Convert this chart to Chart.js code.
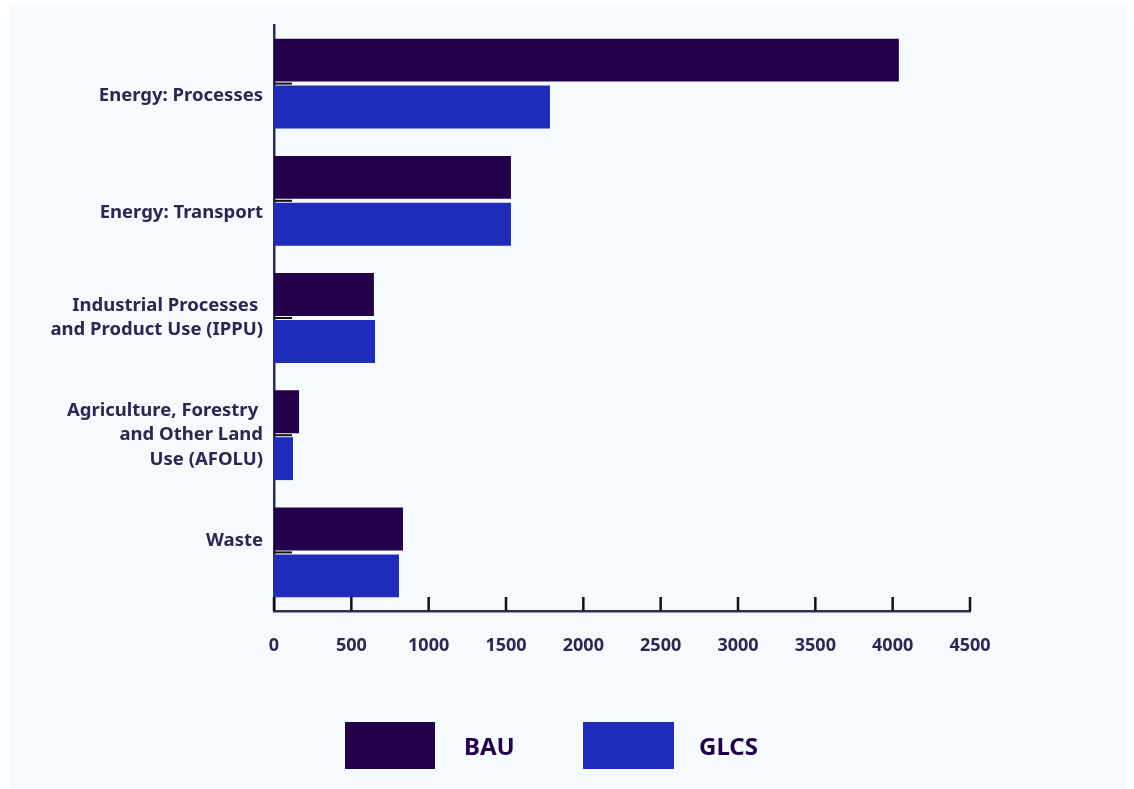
<!DOCTYPE html>
<html lang="en">
<head>
<meta charset="UTF-8">
<title>Emissions by sector — BAU vs GLCS</title>
<script src="https://cdn.jsdelivr.net/npm/chart.js@4.4.0/dist/chart.umd.min.js"></script>
<style>
*{box-sizing:border-box;margin:0;padding:0}
html,body{width:1134px;height:789px;background:#fff;overflow:hidden}
body{font-family:"Noto Sans",sans-serif;position:relative}
.panel{position:absolute;left:9px;top:7px;width:1118px;height:782px;background:#f5fafd}
.cw{position:absolute;left:0;top:0;width:1134px;height:789px}
.legend{position:absolute;top:722px;left:0;width:1134px;height:47px}
.legend .box{position:absolute;top:0;height:47px}
.legend .lbl{position:absolute;top:0;line-height:47px;font-weight:700;font-size:24px;color:#22004a}
</style>
</head>
<body>
<div class="panel"></div>
<div class="cw"><canvas id="bars"></canvas></div>
<div class="legend" id="legend"></div>

<script>
// blank lines keep the labels sitting where the original layout put them
const categories = [
  ["", "Energy: Processes"],
  ["", "Energy: Transport"],
  ["Industrial Processes ", "and Product Use (IPPU)"],
  ["Agriculture, Forestry ", "and Other Land", "Use (AFOLU)"],
  ["Waste", ""]
];
const bau = [4040, 1532, 646, 162, 834];
const glcs = [1784, 1532, 653, 123, 808];
const seriesNames = ["BAU", "GLCS"];
const seriesColors = ["#22004a", "#1f2cb9"];

const axisColor = "#2f2e55", labelColor = "#2a2850";

// short black tick marks drawn inward from both axes
const innerTicks = {
  id: "innerTicks",
  afterDatasetsDraw(chart) {
    const { ctx, chartArea, scales: { x, y } } = chart;
    ctx.save();
    ctx.strokeStyle = "#111";
    ctx.lineWidth = 2.5;
    x.ticks.forEach(t => {
      const px = x.getPixelForValue(t.value);
      ctx.beginPath();
      ctx.moveTo(px, chartArea.bottom);
      ctx.lineTo(px, chartArea.bottom - 14);
      ctx.stroke();
    });
    ctx.lineWidth = 2;
    categories.forEach((c, i) => {
      const py = y.getPixelForValue(i);
      ctx.beginPath();
      ctx.moveTo(chartArea.left, py);
      ctx.lineTo(chartArea.left + 18, py);
      ctx.stroke();
    });
    ctx.restore();
  }
};

new Chart(document.getElementById("bars"), {
  type: "bar",
  data: {
    labels: categories,
    datasets: [
      { label: seriesNames[0], data: bau, backgroundColor: seriesColors[0] },
      { label: seriesNames[1], data: glcs, backgroundColor: seriesColors[1] }
    ]
  },
  options: {
    indexAxis: "y",
    responsive: true, maintainAspectRatio: false, animation: false,
    barPercentage: 0.915, categoryPercentage: 0.80,
    layout: { padding: { left: 0, top: 25, right: 164, bottom: 128 } },
    plugins: { legend: { display: false }, tooltip: { enabled: false } },
    scales: {
      x: {
        min: 0, max: 4500,
        grid: { display: false, tickLength: 0 },
        border: { color: axisColor, width: 2.5 },
        ticks: {
          stepSize: 500, padding: 24, color: labelColor,
          font: { family: "Noto Sans", weight: "bold", size: 18 },
          callback: v => String(v)
        },
        afterFit(s) { s.height = 50; }
      },
      y: {
        grid: { display: false, tickLength: 0 },
        border: { color: axisColor, width: 2.5 },
        ticks: { padding: 11, color: labelColor, font: { family: "Noto Sans", weight: "bold", size: 18.5, lineHeight: 1.3 } },
        afterFit(s) { s.width = 274; s.paddingTop = 0; s.paddingBottom = 0; }
      }
    }
  },
  plugins: [innerTicks]
});

// legend under the chart
const legendPos = [{ box: 345, w: 90, text: 464 }, { box: 583, w: 91, text: 699 }];
const legend = document.getElementById("legend");
seriesNames.forEach((name, i) => {
  const b = document.createElement("div");
  b.className = "box";
  b.style.left = legendPos[i].box + "px";
  b.style.width = legendPos[i].w + "px";
  b.style.background = seriesColors[i];
  const l = document.createElement("div");
  l.className = "lbl";
  l.style.left = legendPos[i].text + "px";
  l.textContent = name;
  legend.append(b, l);
});
</script>
</body>
</html>
